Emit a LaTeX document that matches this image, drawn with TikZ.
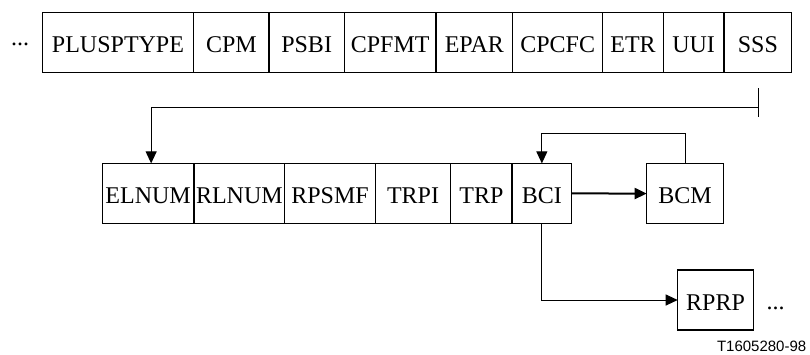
\documentclass[tikz,border=0pt]{standalone}
\usepackage{fontspec}
\setmainfont{Liberation Serif}
\newfontfamily\figsans{Liberation Sans}
\usetikzlibrary{arrows.meta,positioning}

\begin{document}
\begin{tikzpicture}[x=1pt,y=-1pt]
    \tikzstyle{every node}+=[inner sep=0pt, outer sep=0pt, font=\fontsize{24}{27}\selectfont]
    \tikzstyle{field}=[draw, line width=1.2pt, minimum height=60.4pt, text height=20pt, text depth=0pt, anchor=west]
    \tikzstyle{link}=[line width=1pt, -{Triangle[length=12pt,width=11pt]}]
    \useasboundingbox (0,0) rectangle (810,354);
    % picture header fields
    \node [anchor=base] (moreleft) at (20,45.5) {...};
    \node [field, minimum width=151.4pt] (plusptype) at (42.3,42.5) {PLUSPTYPE};
    \node [field, minimum width=75.3pt, right=0pt of plusptype] (cpm) {CPM};
    \node [field, minimum width=75.3pt, right=0pt of cpm] (psbi) {PSBI};
    \node [field, minimum width=91.7pt, right=0pt of psbi] (cpfmt) {CPFMT};
    \node [field, minimum width=76.7pt, right=0pt of cpfmt] (epar) {EPAR};
    \node [field, minimum width=90pt, right=0pt of epar] (cpcfc) {CPCFC};
    \node [field, minimum width=60.6pt, right=0pt of cpcfc] (etr) {ETR};
    \node [field, minimum width=60.7pt, right=0pt of etr] (uui) {UUI};
    \node [field, minimum width=67.7pt, right=0pt of uui] (sss) {SSS};
    % second row
    \node [field, minimum width=91.7pt, minimum height=60pt] (elnum) at (102.3,193.4) {ELNUM};
    \node [field, minimum width=90.7pt, minimum height=60pt, right=0pt of elnum] (rlnum) {RLNUM};
    \node [field, minimum width=90.6pt, minimum height=60pt, right=0pt of rlnum] (rpsmf) {RPSMF};
    \node [field, minimum width=75.4pt, minimum height=60pt, right=0pt of rpsmf] (trpi) {TRPI};
    \node [field, minimum width=61.3pt, minimum height=60pt, right=0pt of trpi] (trp) {TRP};
    \node [field, minimum width=59.7pt, minimum height=60pt, right=0pt of trp] (bci) {BCI};
    \node [field, minimum width=76.6pt, minimum height=60pt] (bcm) at (646.7,193.6) {BCM};
    \node [field, minimum width=75.6pt, minimum height=60pt] (rprp) at (677.7,300) {RPRP};
    \node [anchor=base] (moreright) at (775.7,309.5) {...};
    % connectors
    \coordinate (wrap) at (758.7,107);
    \draw [line width=1pt] ([yshift=18.7pt]wrap) -- ([yshift=-10.3pt]wrap);
    \draw [link] (wrap) -| ([xshift=3pt]elnum.north);
    \draw [link, line width=2pt] (bci) -- (bcm);
    \draw [link] (bcm.north) -- ++(0,-30) -| (bci.north);
    \draw [link] (bci.south) |- (rprp.west);
    \node [anchor=base west, font=\figsans\fontsize{15}{18}\selectfont] (figid) at (717,351.5) {T1605280-98};
\end{tikzpicture}
\end{document}
